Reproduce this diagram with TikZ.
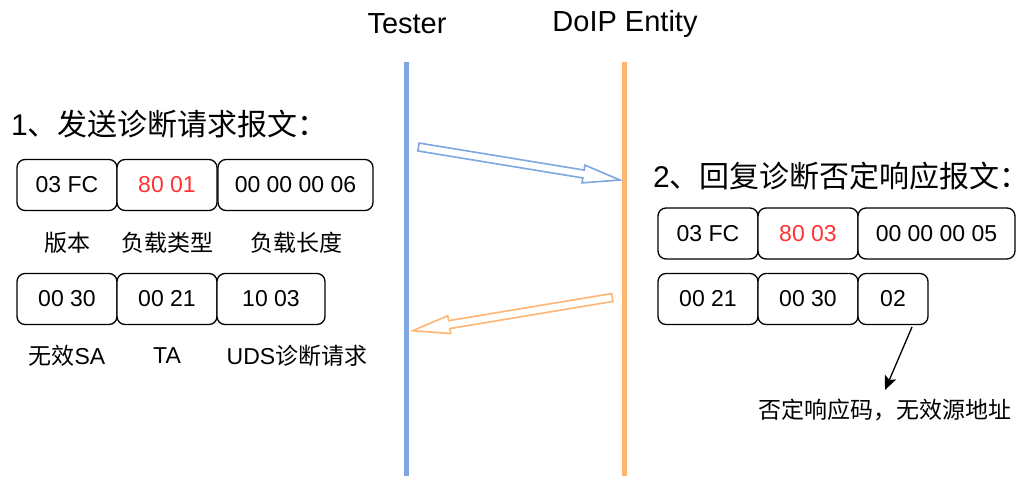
\documentclass[tikz,border=0pt]{standalone}
\usepackage{fontspec}
\setmainfont{Liberation Sans}
\newfontfamily\cjk{Noto Sans CJK SC}
\usetikzlibrary{calc,arrows.meta}
\definecolor{tblue}{HTML}{7EA6E0}
\definecolor{dorange}{HTML}{FFB570}
\definecolor{fred}{HTML}{FF3333}
\newcommand\bxfont{\fontsize{23pt}{27pt}\selectfont}
\newcommand\hdfont{\fontsize{30pt}{36pt}\selectfont}
\newcommand\ttlfont{\fontsize{29pt}{35pt}\selectfont}
\tikzset{
  field/.style={draw=black, line width=1.3pt, rounded corners=8pt, minimum height=51pt, inner sep=0pt, font=\bxfont, fill=white},
  lbl/.style={inner sep=0pt, font=\bxfont},
  hdr/.style={inner sep=0pt, font=\hdfont},
  ttl/.style={inner sep=0pt, font=\ttlfont},
  lifeline/.style={line width=5pt},
  fatarrow/.style={line width=1.6pt, fill=white, line join=miter,
    to path={let \p1=($(\tikztotarget)-(\tikztostart)$), \n1={atan2(\y1,\x1)}, \n2={veclen(\x1,\y1)} in
      ($(\tikztostart)+(\n1+90:4pt)$)
      -- ($(\tikztostart)+(\n1:{\n2-37pt})+(\n1+90:4pt)$)
      -- ($(\tikztostart)+(\n1:{\n2-37pt})+(\n1+90:9pt)$)
      -- (\tikztotarget)
      -- ($(\tikztostart)+(\n1:{\n2-37pt})+(\n1-90:9pt)$)
      -- ($(\tikztostart)+(\n1:{\n2-37pt})+(\n1-90:4pt)$)
      -- ($(\tikztostart)+(\n1-90:4pt)$) -- cycle}},
}
\begin{document}
\begin{tikzpicture}[x=1pt,y=-1pt]
\useasboundingbox (0,0) rectangle (1031,487);

% lifelines
\coordinate (tt) at (406.5,62);
\coordinate (tb) at (406.5,476);
\coordinate (dt) at (624,62);
\coordinate (db) at (624,476);
\draw[lifeline, tblue] (tt) -- (tb);
\draw[lifeline, dorange] (dt) -- (db);

% headers
\node[ttl] (tester) at (407,24) {Tester};
\node[ttl] (doip) at (625,24) {DoIP Entity};
\node[hdr, anchor=west] (h1) at (11,124) {1{\cjk 、发送诊断请求报文：}};
\node[hdr, anchor=west] (h2) at (653,176) {2{\cjk 、回复诊断否定响应报文：}};

% block arrows
\coordinate (qs) at (418.5,147);
\coordinate (qe) at (620,180);
\coordinate (ps) at (612.3,297.5);
\coordinate (pe) at (412.7,330.7);
\draw[fatarrow, draw=tblue] (qs) to (qe);
\draw[fatarrow, draw=dorange] (ps) to (pe);

% request fields
\node[field, minimum width=100pt] (l1) at (67,185) {03 FC};
\node[field, minimum width=100pt, text=fred] (l2) at (167,185) {80 01};
\node[field, minimum width=155pt] (l3) at (295.5,185) {00 00 00 06};
\node[lbl] (ll1) at (67,243) {\cjk 版本};
\node[lbl] (ll2) at (167,243) {\cjk 负载类型};
\node[lbl] (ll3) at (296,243) {\cjk 负载长度};

\node[field, minimum width=100pt] (l4) at (67,299) {00 30};
\node[field, minimum width=100pt] (l5) at (167,299) {00 21};
\node[field, minimum width=108pt] (l6) at (271,299) {10 03};
\node[lbl] (ll4) at (67,356) {{\cjk 无效}SA};
\node[lbl] (ll5) at (167,356) {TA};
\node[lbl] (ll6) at (297,356) {UDS{\cjk 诊断请求}};

% response fields
\node[field, minimum width=100pt] (r1) at (708,233.5) {03 FC};
\node[field, minimum width=100pt, text=fred] (r2) at (808,233.5) {80 03};
\node[field, minimum width=157pt] (r3) at (936.5,233.5) {00 00 00 05};
\node[field, minimum width=100pt] (r4) at (708,299) {00 21};
\node[field, minimum width=100pt] (r5) at (808,299) {00 30};
\node[field, minimum width=70pt] (r6) at (893,299) {02};

\node[lbl] (note) at (885,410) {\cjk 否定响应码，无效源地址};
\coordinate (ns) at (912,327);
\coordinate (ne) at (885,390);
\draw[line width=1.3pt, -{Stealth[length=14pt,width=12pt,inset=3pt]}] (ns) -- (ne);
\end{tikzpicture}
\end{document}
